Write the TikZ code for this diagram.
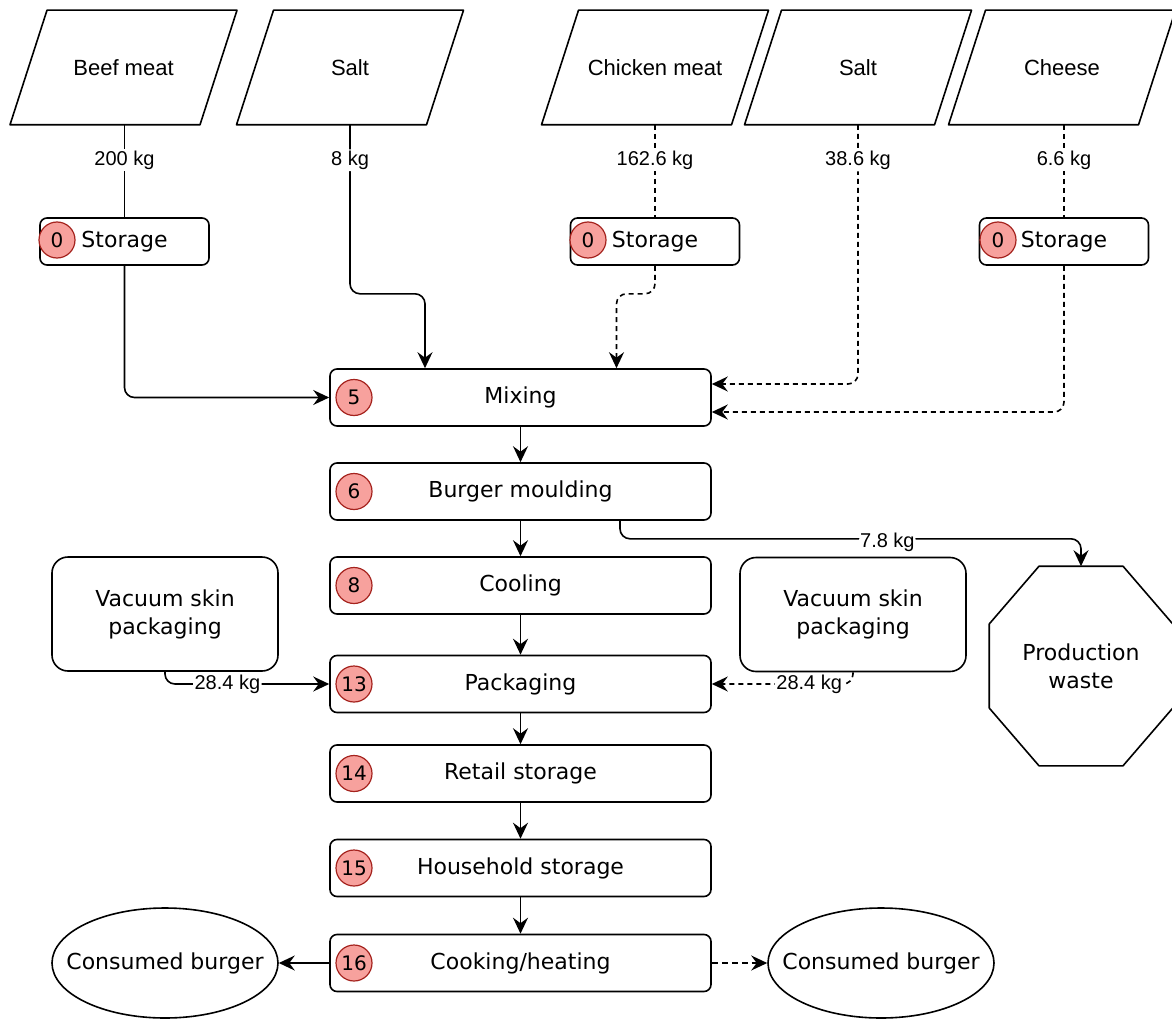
\documentclass[tikz,border=0pt]{standalone}
\usepackage{fontspec}
\setmainfont{DejaVu Sans}
\newfontfamily\arialf{Liberation Sans}
\usetikzlibrary{arrows.meta,calc,shapes.geometric}
\definecolor{badgeF}{RGB}{247,161,157}
\definecolor{badgeD}{RGB}{165,35,30}
\begin{document}
\begin{tikzpicture}[x=1pt,y=-1pt,
  line width=1.6pt, line join=round,
  ing/.style={minimum width=190pt,minimum height=113pt,inner sep=0pt,font=\arialf\fontsize{22}{26}\selectfont},
  proc/.style={draw,rounded corners=7pt,minimum width=381pt,minimum height=57pt,inner sep=0pt,font=\fontsize{22}{26}\selectfont},
  stor/.style={draw,rounded corners=7pt,minimum width=169pt,minimum height=47pt,inner sep=0pt,font=\fontsize{22}{26}\selectfont},
  badge/.style={circle,draw=badgeD,fill=badgeF,minimum size=36pt,inner sep=0pt,line width=1.2pt,font=\fontsize{20}{22}\selectfont},
  bigbox/.style={draw,rounded corners=16pt,minimum width=226pt,minimum height=114pt,align=center,inner sep=0pt,font=\fontsize{22}{28}\selectfont},
  ell/.style={minimum width=226pt,minimum height=110pt,inner sep=0pt,font=\fontsize{22}{26}\selectfont},
  lbl/.style={fill=white,inner sep=1.5pt,font=\arialf\fontsize{20}{22}\selectfont},
  arr/.style={-{Stealth[length=16pt,width=15pt,inset=5.5pt]}},
  dsh/.style={dash pattern=on 5pt off 4pt},
  conn/.style={rounded corners=10pt}
]
\useasboundingbox[fill=white] (0,0) rectangle (1172,1019);

% ingredients
\node[ing] (beef)  at (123.5,67.5) {Beef meat};
\node[ing] (salt1) at (350,67.5) {Salt};
\node[ing] (chick) at (655,67.5) {Chicken meat};
\node[ing] (salt2) at (858,67.5) {Salt};
\node[ing] (chees) at (1062,67.5) {Cheese};
\foreach \n in {beef,salt1,chick,salt2,chees}{
  \draw ([xshift=-113.5pt]\n.south) -- ([xshift=76.5pt]\n.south) -- ([xshift=113.5pt]\n.north) -- ([xshift=-76.5pt]\n.north) -- cycle;
}

% storage boxes
\node[stor] (stb) at (124.5,241.5) {Storage};
\node[stor] (stk) at (655,241.5) {Storage};
\node[stor] (stc) at (1064,241.5) {Storage};
\node[badge] (bstb) at (57,240) {0};
\node[badge] (bstk) at (588,240) {0};
\node[badge] (bstc) at (998,240) {0};

% process chain
\node[proc] (mix)  at (520.5,397.5) {Mixing};
\node[proc] (burg) at (520.5,491.5) {Burger moulding};
\node[proc] (cool) at (520.5,585.5) {Cooling};
\node[proc] (pack) at (520.5,684) {Packaging};
\node[proc] (ret)  at (520.5,773.5) {Retail storage};
\node[proc] (hh)   at (520.5,868) {Household storage};
\node[proc] (cook) at (520.5,963) {Cooking/heating};
\node[badge] (b5)  at (354,397.5) {5};
\node[badge] (b6)  at (354,491.5) {6};
\node[badge] (b8)  at (354,585.5) {8};
\node[badge] (b13) at (354,684) {13};
\node[badge] (b14) at (354,773.5) {14};
\node[badge] (b15) at (354,868) {15};
\node[badge] (b16) at (354,963) {16};

% packaging inputs
\node[bigbox] (vl) at (165,614) {Vacuum skin\\packaging};
\node[bigbox] (vr) at (853,614.5) {Vacuum skin\\packaging};

% production waste octagon
\node[minimum width=182pt,minimum height=198pt,inner sep=0pt,align=center,font=\fontsize{22}{28}\selectfont] (pw) at (1081,666) {Production\\waste};
\draw ([xshift=-42pt]pw.north) -- ([xshift=42pt]pw.north) -- ([yshift=42pt]pw.east) -- ([yshift=-42pt]pw.east) -- ([xshift=42pt]pw.south) -- ([xshift=-42pt]pw.south) -- ([yshift=-42pt]pw.west) -- ([yshift=42pt]pw.west) -- cycle;

% consumed burger
\node[ell] (cbl) at (165,963) {Consumed burger};
\node[ell] (cbr) at (881,963) {Consumed burger};
\draw (cbl.center) ellipse [x radius=113, y radius=55];
\draw (cbr.center) ellipse [x radius=113, y radius=55];

% connectors: ingredients
\draw (stb.north |- beef.south) -- node[lbl,pos=0.38]{200 kg} (stb.north);
\draw[arr,conn] (stb.south) |- (mix.west);
\draw[arr,conn] (salt1.south) -- node[lbl,pos=0.21]{8 kg} ++(0,169) -| ([xshift=-95.5pt]mix.north);
\draw[dsh] (chick.south) -- node[lbl,pos=0.38]{162.6 kg} (stk.north);
\draw[arr,dsh,conn] (stk.south) -- ++(0,28) -| ([xshift=96pt]mix.north);
\draw[arr,dsh,conn] (salt2.south) |- node[lbl,pos=0.069]{38.6 kg} ([yshift=13.5pt]mix.east);
\draw[dsh] (stc.north |- chees.south) -- node[lbl,pos=0.38]{6.6 kg} (stc.north);
\draw[arr,dsh,conn] (stc.south) |- ([yshift=-14.5pt]mix.east);

% main chain
\draw[arr] (mix) -- (burg);
\draw[arr] (burg) -- (cool);
\draw[arr] (cool) -- (pack);
\draw[arr] (pack) -- (ret);
\draw[arr] (ret) -- (hh);
\draw[arr] (hh) -- (cook);

% waste
\draw[arr,conn] ([xshift=99.5pt]burg.south) -- ++(0,18) -| node[lbl,pos=0.29,yshift=-4pt]{7.8 kg} (pw.north);

% packaging
\draw[arr,conn] (vl.south) |- node[lbl,pos=0.69]{28.4 kg} (pack.west);
\draw[arr,dsh,conn] (vr.south) |- node[lbl,pos=0.655]{28.4 kg} (pack.east);

% consumption
\draw[arr] (cook.west) -- (cbl.east);
\draw[arr,dash pattern=on 6pt off 4pt] (cook.east) -- (cbr.west);
\end{tikzpicture}
\end{document}
